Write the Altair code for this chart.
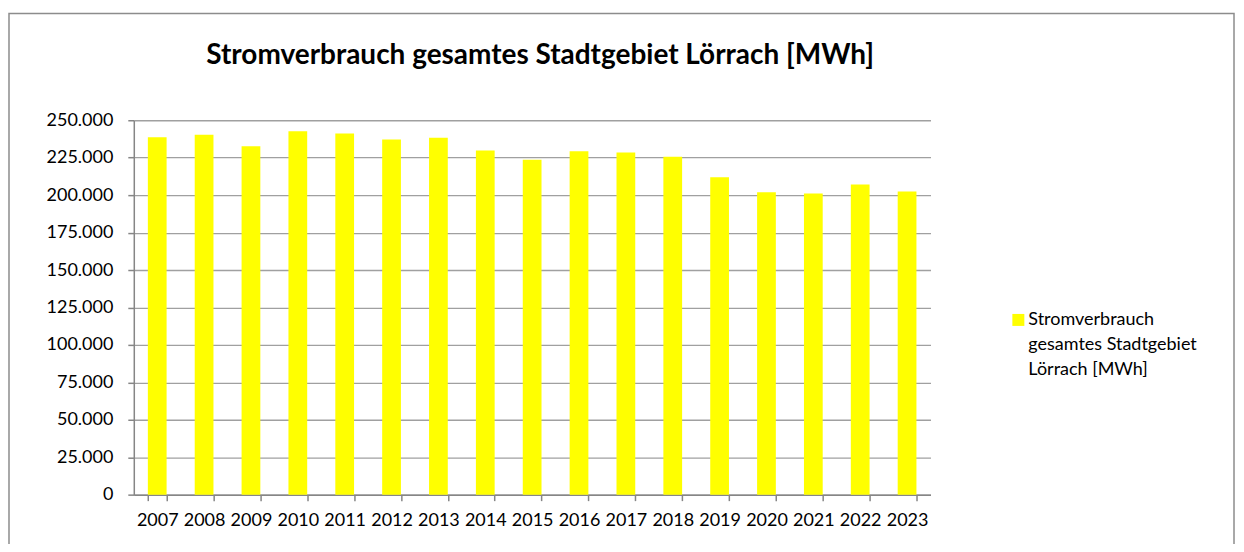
import altair as alt
import pandas as pd

years = [str(y) for y in range(2007, 2024)]
values = [238700, 240400, 232700, 242700, 241100, 237100, 238400, 229800,
          223600, 229300, 228500, 225600, 212000, 202000, 201100, 207100, 202500]
series_name = "Stromverbrauch gesamtes Stadtgebiet Lörrach [MWh]"
legend_lines = ["Stromverbrauch", "gesamtes Stadtgebiet", "Lörrach [MWh]"]
y_ticks = list(range(0, 250001, 25000))

df = pd.DataFrame({"Jahr": years, "Wert": values, "Serie": legend_lines[0]})

FONT = "Lato"
AXIS_GRAY = "#868686"

bars = alt.Chart(df).mark_bar(color="#FFFF00").encode(
    x=alt.X("Jahr:N", sort=years,
            scale=alt.Scale(paddingInner=0.6, paddingOuter=0.3),
            axis=alt.Axis(title=None, labelAngle=0, tickBand="extent",
                          tickSize=6, tickColor=AXIS_GRAY, tickWidth=1.5,
                          domainColor=AXIS_GRAY, domainWidth=1.5,
                          labelFont=FONT, labelFontSize=18, labelColor="#000000",
                          labelPadding=11, grid=False)),
    y=alt.Y("Wert:Q", scale=alt.Scale(domain=[0, 250000], nice=False),
            axis=alt.Axis(title=None, values=y_ticks,
                          labelExpr="replace(format(datum.value, ','), ',', '.')",
                          tickSize=6, tickColor=AXIS_GRAY, tickWidth=1.5,
                          domainColor=AXIS_GRAY, domainWidth=1.5,
                          gridColor="#A0A0A0", gridWidth=1.3,
                          labelFont=FONT, labelFontSize=18, labelColor="#000000",
                          labelPadding=15)),
    fill=alt.Fill("Serie:N",
                  scale=alt.Scale(domain=legend_lines,
                                  range=["#FFFF00", "transparent", "transparent"]),
                  sort=legend_lines,
                  legend=alt.Legend(title=None, orient="none", legendX=877, legendY=191,
                                    symbolType="square", symbolSize=144,
                                    symbolStrokeWidth=0, labelFont=FONT,
                                    labelFontSize=18, labelColor="#000000",
                                    labelLimit=400, labelOffset=1, padding=0,
                                    rowPadding=7)),
)

frame = alt.Chart(alt.Data(values=[{"f": 1}])).mark_rect(
    fill=None, stroke="#8C8C8C", strokeWidth=1.5
).encode(
    x=alt.value(-125), x2=alt.value(1102), y=alt.value(-107), y2=alt.value(500)
)

chart = alt.layer(frame, bars).properties(
    width=798, height=375,
    title=alt.TitleParams(series_name, font=FONT, fontSize=28, fontWeight="bold",
                          color="#000000", anchor="middle", frame="group",
                          dx=8, offset=0, dy=57),
    autosize=alt.AutoSizeParams(type="none"),
    padding={"left": 126, "top": 112, "right": 306, "bottom": 49},
).configure_view(stroke=None)

chart.save("out.html", embed_options={"renderer": "svg", "actions": False})
